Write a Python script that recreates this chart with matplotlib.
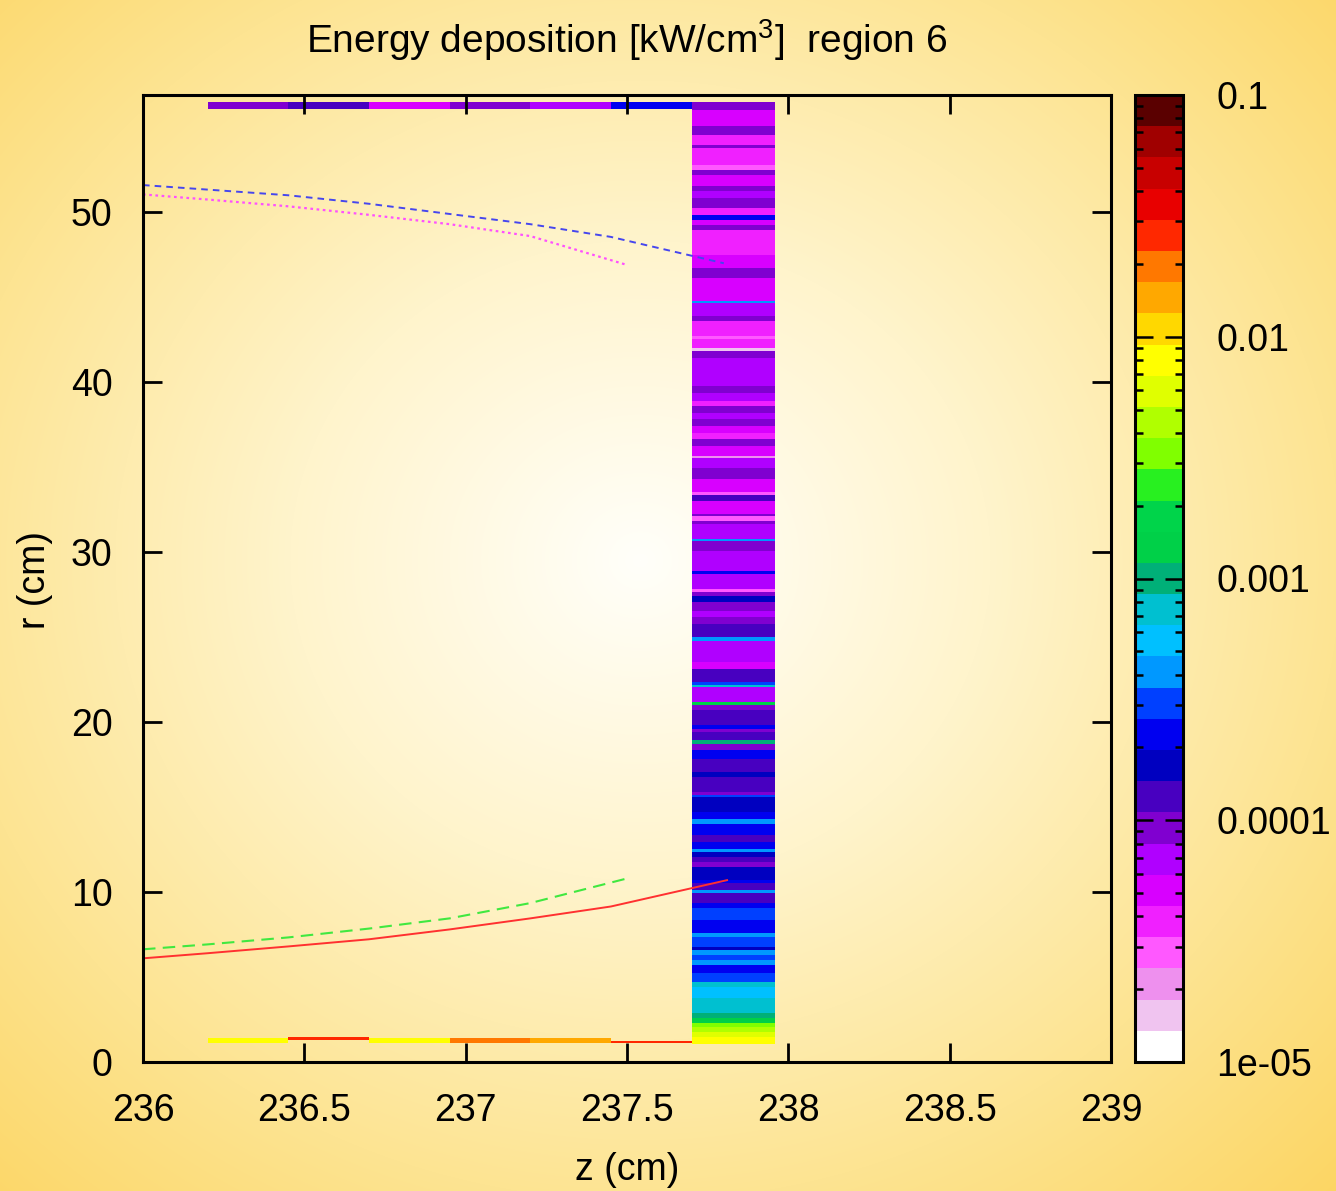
import numpy as np
import matplotlib
matplotlib.use("Agg")
import matplotlib.pyplot as plt
from matplotlib.colors import ListedColormap, LogNorm
from matplotlib.cm import ScalarMappable
from matplotlib.ticker import FixedLocator, LogLocator, NullFormatter

plt.rcParams['font.family'] = ['Liberation Sans', 'DejaVu Sans']
plt.rcParams['mathtext.fontset'] = 'custom'
plt.rcParams['mathtext.rm'] = 'Liberation Sans'
plt.rcParams['mathtext.it'] = 'Liberation Sans:italic'

# colour box: 31 steps from 1e-05 (white) up to 0.1 (dark red)
palette = ['#ffffff', '#f0c4f0', '#ee90ee', '#ff58ff', '#f020ff', '#d800ff',
           '#b000ff', '#8000d0', '#4800c0', '#0000c0', '#0000f0', '#0040ff',
           '#0098ff', '#00c0ff', '#00c0d0', '#00b078', '#00d048', '#00d44a',
           '#28f020', '#80ff00', '#b0ff00', '#e0ff00', '#ffff00', '#ffd800',
           '#ffa800', '#ff7800', '#ff2800', '#e80000', '#c80000', '#a00000',
           '#5a0000']

# vertical strip at z = 237.7 .. 237.96 : band edges in r (top -> bottom)
strip_z = [237.7, 237.96]
strip_r = [56.47, 56.00, 55.06, 54.53, 53.94, 53.76, 52.76, 52.47, 52.18, 51.53,
           51.24, 50.82, 50.24, 49.82, 49.53, 49.24, 48.94, 47.47, 46.71, 46.12,
           44.76, 44.65, 43.88, 43.59, 42.71, 42.53, 42.00, 41.82, 41.41, 39.76,
           39.35, 38.88, 38.59, 38.18, 37.82, 37.41, 37.00, 36.65, 36.24, 35.65,
           35.53, 34.94, 34.29, 33.53, 33.35, 33.00, 32.24, 32.12, 31.82, 31.65,
           30.76, 30.65, 30.06, 28.88, 28.71, 27.82, 27.65, 27.41, 27.06, 26.53,
           26.18, 25.76, 25.00, 24.76, 23.53, 23.12, 22.35, 22.18, 22.06, 21.18,
           21.00, 20.71, 19.82, 19.59, 19.41, 18.94, 18.71, 18.35, 17.82, 17.06,
           16.76, 15.88, 15.71, 15.59, 14.71, 14.29, 14.00, 13.35, 12.94, 12.53,
           12.35, 12.06, 11.76, 11.47, 10.71, 10.53, 10.12, 9.94, 9.35, 9.06,
           8.35, 7.59, 7.35, 6.76, 6.59, 6.29, 6.00, 5.71, 5.24, 4.71,
           4.41, 3.76, 2.88, 2.59, 2.29, 2.06, 1.76, 1.47, 1.06]
# energy deposition in each band, units of 1e-05 kW/cm3
strip_e = [9.3, 5.1, 9.3, 3.8, 9.3, 3.8, 2.8, 9.3, 5.1, 9.3,
           6.9, 9.3, 3.8, 22.6, 5.1, 9.3, 3.8, 5.1, 9.3, 5.1,
           41, 6.9, 9.3, 3.8, 2.8, 3.8, 1.6, 9.3, 6.9, 9.3,
           6.9, 3.8, 9.3, 6.9, 9.3, 5.1, 3.8, 9.3, 5.1, 2.1,
           6.9, 9.3, 5.1, 2.8, 12.5, 5.1, 9.3, 2.8, 9.3, 6.9,
           41, 9.3, 6.9, 22.6, 6.9, 2.8, 9.3, 16.8, 9.3, 6.9,
           9.3, 12.5, 41, 6.9, 5.1, 12.5, 30.5, 74, 6.9, 135,
           9.3, 12.5, 22.6, 9.3, 12.5, 100, 9.3, 22.6, 12.5, 16.8,
           12.5, 9.3, 30.5, 16.8, 22.6, 41, 22.6, 12.5, 22.6, 41,
           16.8, 12.5, 9.3, 16.8, 22.6, 12.5, 41, 12.5, 22.6, 30.5,
           22.6, 41, 30.5, 16.8, 41, 30.5, 41, 22.6, 30.5, 74,
           55, 74, 100, 135, 328, 442, 594, 800]

# thin layer along the top of the region
top_z = [236.2, 236.45, 236.7, 236.95, 237.2, 237.45, 237.7]
top_r = [56.06, 56.47]
top_e = [9.3, 12.5, 5.1, 9.3, 6.9, 22.6]

# thin layer along the bottom of the region
bot_z = [236.2, 236.45, 236.7, 236.95, 237.2, 237.45]
bot_r_lo = [1.12, 1.29, 1.12, 1.12, 1.12, 1.12]
bot_r_hi = [1.41, 1.47, 1.41, 1.41, 1.41, 1.24]
bot_e = [800, 2630, 800, 1950, 1450, 2630]

# boundary curves
red_z = [236.0, 236.2, 236.45, 236.7, 236.95, 237.2, 237.45, 237.81]
red_r = [6.10, 6.40, 6.80, 7.22, 7.80, 8.45, 9.15, 10.7]
green_z = [236.0, 236.2, 236.45, 236.7, 236.95, 237.2, 237.5]
green_r = [6.63, 6.92, 7.33, 7.85, 8.45, 9.35, 10.8]
blue_z = [236.0, 236.45, 236.7, 236.95, 237.2, 237.45, 237.8]
blue_r = [51.6, 51.0, 50.5, 49.9, 49.3, 48.55, 47.0]
pink_z = [236.0, 236.2, 236.45, 236.7, 236.95, 237.2, 237.5]
pink_r = [51.05, 50.75, 50.35, 49.85, 49.3, 48.6, 46.9]

cmap = ListedColormap(palette)
norm = LogNorm(vmin=1e-5, vmax=0.1)

W, H = 1336, 1191
fig = plt.figure(figsize=(W / 100, H / 100), dpi=100)

# yellow radial background
yy, xx = np.mgrid[0:H, 0:W]
d = np.sqrt(((xx - 640) / 700.0) ** 2 + ((yy - 560) / 640.0) ** 2)
stops_d = [0.0, 0.5, 1.0, 1.5]
stops_c = np.array([[255, 255, 250], [255, 244, 204], [253, 228, 146], [252, 210, 88]]) / 255.0
img = np.stack([np.interp(d, stops_d, stops_c[:, k]) for k in range(3)], axis=-1)
bg = fig.add_axes([0, 0, 1, 1], zorder=-5)
bg.imshow(img, aspect='auto', interpolation='bilinear')
bg.axis('off')

ax = fig.add_axes([143 / W, 129 / H, 968 / W, 967 / H])
ax.set_facecolor('none')

ax.pcolormesh(strip_z, strip_r, np.array(strip_e)[:, None] * 1e-5,
              cmap=cmap, norm=norm, edgecolors='face', linewidth=0)
ax.pcolormesh(top_z, top_r, np.array(top_e)[None, :] * 1e-5,
              cmap=cmap, norm=norm, edgecolors='face', linewidth=0)
ax.bar(bot_z, np.array(bot_r_hi) - np.array(bot_r_lo), width=0.25,
       bottom=bot_r_lo, align='edge', linewidth=0,
       color=cmap(norm(np.array(bot_e) * 1e-5)))

ax.plot(red_z, red_r, color='#ff3030', lw=1.4)
ax.plot(green_z, green_r, color='#40e840', lw=1.5, dashes=(6, 3.5))
ax.plot(blue_z, blue_r, color='#4646ee', lw=1.4, dashes=(3.4, 2.6))
ax.plot(pink_z, pink_r, color='#ff50ff', lw=1.6, dashes=(1.2, 1.6))

ax.set_xlim(236, 239)
ax.set_ylim(0, 56.9)
xt = [236, 236.5, 237, 237.5, 238, 238.5, 239]
ax.xaxis.set_major_locator(FixedLocator(xt))
ax.set_xticklabels(['%g' % v for v in xt])
ax.yaxis.set_major_locator(FixedLocator([0, 10, 20, 30, 40, 50]))
ax.tick_params(direction='in', top=True, right=True, length=14, width=2,
               labelsize=27, color='black')
ax.tick_params(axis='x', pad=22)
ax.tick_params(axis='y', pad=22)
for sp in ax.spines.values():
    sp.set_linewidth(2.2)

cax = fig.add_axes([1135 / W, 129 / H, 48 / W, 967 / H])
cb = fig.colorbar(ScalarMappable(norm=norm, cmap=cmap), cax=cax)
cb.set_ticks([1e-5, 1e-4, 1e-3, 1e-2, 1e-1])
cb.set_ticklabels(['1e-05', '0.0001', '0.001', '0.01', '0.1'])
cax.yaxis.set_minor_locator(LogLocator(base=10, subs=range(2, 10)))
cax.yaxis.set_minor_formatter(NullFormatter())
cax.tick_params(which='both', direction='in', left=True, right=True,
                labelleft=False, labelright=True, width=1.8, color='black')
cax.tick_params(which='major', length=13, labelsize=27, pad=24)
cax.tick_params(which='minor', length=6)
cb.outline.set_linewidth(2.2)

fig.text(627 / W, 1 - 40 / H, 'Energy deposition [kW/cm$^3$]  region 6',
         ha='center', va='center', fontsize=28)
fig.text(627 / W, 1 - 1170 / H, 'z (cm)', ha='center', va='center', fontsize=27)
fig.text(35 / W, 1 - 580 / H, 'r (cm)', ha='center', va='center',
         rotation=90, fontsize=27)

fig.savefig('out.png', dpi=100)
